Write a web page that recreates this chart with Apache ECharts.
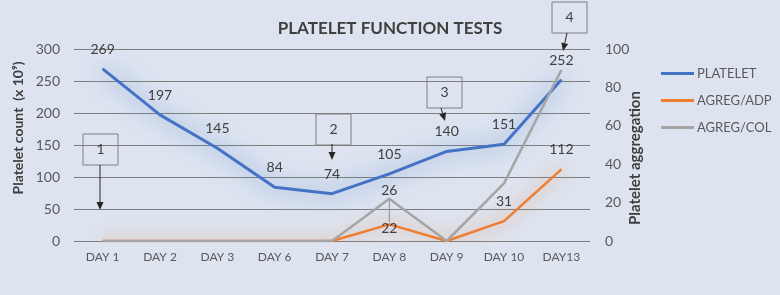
<!DOCTYPE html>
<html>
<head>
<meta charset="utf-8">
<script src="https://cdn.jsdelivr.net/npm/echarts@6/dist/echarts.min.js"></script>
<style>
  html, body { margin: 0; padding: 0; background: #dde4f0; }
  #chart { width: 780px; height: 295px; }
</style>
</head>
<body>
<div id="chart"></div>
<script>
// days on the x axis
const days = ['DAY 1', 'DAY 2', 'DAY 3', 'DAY 6', 'DAY 7', 'DAY 8', 'DAY 9', 'DAY 10', 'DAY13']
// platelet count (x 10^9), left axis
const platelet = [269, 197, 145, 84, 74, 105, 140, 151, 252]
// aggregation with ADP (drawn against left axis, as in the original)
const adp = [0, 0, 0, 0, 0, 26, 0, 31, 112]
// aggregation with collagen, right axis
const col = [0, 0, 0, 0, 0, 22, 0, 30, 89]
// which points carry a data label
const adpLabelIdx = [5, 7, 8]
const colLabelIdx = [5]
// numbered callout boxes
const notes = ['1', '2', '3', '4']

const font = 'Lato, "Open Sans", sans-serif'
const dark = '#404040'
const grey = '#595959'

const chart = echarts.init(document.getElementById('chart'))

function box(x, y, text) {
  return [
    {
      type: 'rect',
      shape: { x: x, y: y, width: 35, height: 31 },
      style: { fill: 'transparent', stroke: '#7f7f7f', lineWidth: 1 },
      z: 10
    },
    {
      type: 'text',
      x: x + 17.5,
      y: y + 15.5,
      style: { text: text, fill: dark, font: '14px ' + font, align: 'center', verticalAlign: 'middle' },
      z: 10
    }
  ]
}

function arrow(x1, y1, x2, y2) {
  const a = Math.atan2(y2 - y1, x2 - x1)
  const len = 8
  const w = 3.5
  const bx = x2 - len * Math.cos(a)
  const by = y2 - len * Math.sin(a)
  const px = -Math.sin(a) * w
  const py = Math.cos(a) * w
  return [
    {
      type: 'line',
      shape: { x1: x1, y1: y1, x2: bx, y2: by },
      style: { stroke: '#262626', lineWidth: 1 },
      z: 10
    },
    {
      type: 'polygon',
      shape: { points: [[x2, y2], [bx + px, by + py], [bx - px, by - py]] },
      style: { fill: '#262626' },
      z: 10
    }
  ]
}

const graphics = [].concat(
  box(83, 134, notes[0]), arrow(100, 165, 100, 210),
  box(316, 114, notes[1]), arrow(332, 144, 332, 160),
  box(427, 77, notes[2]), arrow(441, 108, 445, 121),
  box(552, 2, notes[3]), arrow(567, 33, 563, 51),
  [
    {
      type: 'text',
      x: 18,
      y: 128,
      rotation: Math.PI / 2,
      style: { text: 'Platelet count  (x 10\u2079)', fill: dark, font: 'bold 14px ' + font, align: 'center', verticalAlign: 'middle' }
    },
    {
      type: 'text',
      x: 635,
      y: 158,
      rotation: Math.PI / 2,
      style: { text: 'Platelet aggregation', fill: dark, font: 'bold 15px ' + font, align: 'center', verticalAlign: 'middle' }
    }
  ]
)

chart.setOption({
  backgroundColor: '#dde4f0',
  animation: false,
  textStyle: { fontFamily: font },
  title: {
    text: 'PLATELET FUNCTION TESTS',
    left: 'center',
    top: 15,
    textStyle: { color: dark, fontSize: 17, fontWeight: 'bold', fontFamily: font }
  },
  legend: {
    orient: 'vertical',
    left: 656,
    top: 62,
    icon: 'rect',
    itemWidth: 33,
    itemHeight: 3,
    itemGap: 14,
    textStyle: { color: grey, fontSize: 13, fontFamily: font, padding: [0, 0, 0, -2] },
    data: ['PLATELET', 'AGREG/ADP', 'AGREG/COL']
  },
  grid: { left: 74, right: 190, top: 49, bottom: 54 },
  xAxis: {
    type: 'category',
    data: days,
    axisLine: { show: false },
    axisTick: { show: false },
    axisLabel: { color: grey, fontSize: 12, margin: 10, fontFamily: font }
  },
  yAxis: [
    {
      type: 'value',
      min: 0,
      max: 300,
      interval: 50,
      axisLine: { show: false },
      axisTick: { show: false },
      axisLabel: { color: grey, fontSize: 14, margin: 14, fontFamily: font },
      splitLine: { lineStyle: { color: '#7f7f7f', width: 1 } }
    },
    {
      type: 'value',
      min: 0,
      max: 100,
      interval: 20,
      axisLine: { show: false },
      axisTick: { show: false },
      axisLabel: { color: grey, fontSize: 14, margin: 15, fontFamily: font },
      splitLine: { show: false }
    }
  ],
  series: [
    {
      name: 'PLATELET',
      type: 'line',
      data: platelet,
      yAxisIndex: 0,
      symbol: 'circle',
      symbolSize: 1,
      lineStyle: { color: '#4472c4', width: 3, shadowBlur: 22, shadowColor: 'rgba(68,114,196,1)' },
      itemStyle: { color: '#4472c4' },
      label: { show: true, position: 'top', distance: 12, color: dark, fontSize: 14, fontFamily: font },
      z: 3
    },
    {
      name: 'AGREG/ADP',
      type: 'line',
      data: adp.map(function(v, i) {
        return {
          value: v,
          label: { show: adpLabelIdx.indexOf(i) >= 0, distance: i === 5 ? 26 : 12 }
        }
      }),
      yAxisIndex: 0,
      symbol: 'circle',
      symbolSize: 1,
      lineStyle: { color: '#ed7d31', width: 2.5, shadowBlur: 18, shadowColor: 'rgba(237,125,49,0.9)' },
      itemStyle: { color: '#ed7d31' },
      label: { position: 'top', color: dark, fontSize: 14, fontFamily: font },
      z: 4
    },
    {
      name: 'AGREG/COL',
      type: 'line',
      data: col.map(function(v, i) {
        return { value: v, label: { show: colLabelIdx.indexOf(i) >= 0 } }
      }),
      yAxisIndex: 1,
      symbol: 'circle',
      symbolSize: 1,
      lineStyle: { color: '#a5a5a5', width: 2.5 },
      itemStyle: { color: '#a5a5a5' },
      label: { position: 'inside', color: dark, fontSize: 14, fontFamily: font },
      labelLayout: function(params) {
        return { dy: 30 }
      },
      labelLine: { show: true, lineStyle: { color: '#8c8c8c', width: 1 } },
      z: 5
    }
  ],
  graphic: graphics
})
</script>
</body>
</html>
